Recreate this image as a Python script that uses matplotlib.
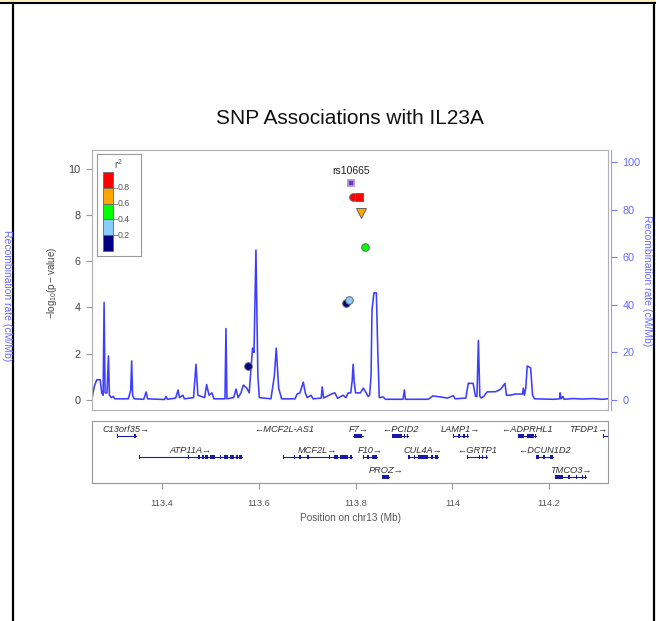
import matplotlib
matplotlib.use("Agg")
import matplotlib.pyplot as plt
from matplotlib.patches import Rectangle
from matplotlib.lines import Line2D

plt.rcParams["font.family"] = ["Liberation Sans", "DejaVu Sans"]
plt.rcParams["mathtext.fontset"] = "custom"
plt.rcParams["mathtext.rm"] = "Liberation Sans"
plt.rcParams["mathtext.it"] = "Liberation Sans:italic"

# -----------------------------
# SNPs (position Mb, -log10 p, r2, shape)
# -----------------------------
snp_pos = [113.790, 113.795, 113.807, 113.812, 113.820, 113.787, 113.781, 113.578]
snp_logp = [9.39, 8.79, 8.79, 8.10, 6.62, 4.33, 4.20, 1.47]
snp_r2 = [1.0, 0.9, 0.9, 0.7, 0.5, 0.3, 0.1, 0.1]
snp_shape = ["s", "o", "s", "v", "o", "o", "o", "o"]
index_snp = "rs10665"

# -----------------------------
# Recombination rate (cM/Mb)
# -----------------------------
recomb_pos = [113.255, 113.258, 113.261, 113.265, 113.272, 113.275, 113.278, 113.280, 113.282,
              113.286, 113.289, 113.291, 113.295, 113.299, 113.302, 113.330, 113.335, 113.337,
              113.339, 113.342, 113.362, 113.367, 113.370, 113.405, 113.408, 113.411, 113.428,
              113.433, 113.436, 113.443, 113.446, 113.465, 113.470, 113.474, 113.488, 113.492,
              113.497, 113.503, 113.507, 113.530, 113.532, 113.534, 113.548, 113.553, 113.557,
              113.563, 113.568, 113.575, 113.580, 113.587, 113.590, 113.594, 113.598, 113.601,
              113.625, 113.632, 113.636, 113.641, 113.647, 113.675, 113.679, 113.685, 113.692,
              113.696, 113.700, 113.708, 113.712, 113.729, 113.731, 113.734, 113.750, 113.757,
              113.763, 113.774, 113.780, 113.785, 113.790, 113.793, 113.795, 113.797, 113.800,
              113.810, 113.816, 113.822, 113.826, 113.829, 113.832, 113.834, 113.838, 113.843,
              113.846, 113.849, 113.857, 113.862, 113.898, 113.901, 113.903, 113.950, 113.960,
              113.975, 113.990, 114.002, 114.006, 114.028, 114.033, 114.043, 114.048, 114.051,
              114.054, 114.057, 114.060, 114.065, 114.072, 114.090, 114.100, 114.109, 114.112,
              114.120, 114.130, 114.145, 114.147, 114.149, 114.152, 114.155, 114.162, 114.166,
              114.170, 114.210, 114.222, 114.223, 114.225, 114.229, 114.231, 114.250, 114.270,
              114.290, 114.310, 114.322]
recomb_rate = [0.3, 4, 6.5, 8.5, 8.5, 3, 2, 41, 3,
               3, 18.5, 2, 1.0, 1.5, 0.5, 0.5, 4, 16.4,
               2, 0.5, 0.3, 3.4, 0.5, 0.2, 1.5, 0.3, 0.8,
               4.2, 1, 2, 0.5, 1, 15, 2, 1, 6.5,
               2, 3, 0.5, 0.5, 30, 0.5, 1, 4.6, 1,
               3, 6.3, 5, 3, 21.8, 20, 63, 10, 1,
               0.5, 10, 21.8, 5, 0.5, 0.5, 2.5, 3, 7.5,
               3, 1, 2, 0.5, 0.8, 5.5, 0.8, 2.5, 3,
               0.7, 2, 1, 3, 3, 8, 15, 8, 3,
               3, 5, 3, 1.5, 2, 10, 38, 45, 45,
               20, 1, 1.3, 0.3, 0.3, 4.2, 0.3, 0.3, 1.7,
               1.3, 0.8, 1.8, 0.5, 0.8, 7, 7, 1.5, 1.5,
               25, 1.5, 0.8, 1.5, 3.4, 3.5, 4.5, 7, 2,
               2, 2.5, 2.5, 5, 2, 5, 14.3, 13.5, 2,
               0.5, 0.3, 0.5, 3, 0.5, 1.5, 0.3, 0.6, 0.4,
               0.6, 0.3, 0.5]

# -----------------------------
# Genes
# -----------------------------
gene_name = ["C13orf35", "MCF2L-AS1", "F7", "PCID2", "LAMP1", "ADPRHL1", "TFDP1",
             "ATP11A", "MCF2L", "F10", "CUL4A", "GRTP1", "DCUN1D2",
             "PROZ", "TMCO3"]
gene_start = [113.307, 113.651, 113.795, 113.876, 114.002, 114.136, 114.312,
              113.352, 113.650, 113.816, 113.909, 114.031, 114.174,
              113.855, 114.213]
gene_end = [113.346, 113.653, 113.816, 113.909, 114.033, 114.174, 114.380,
            113.565, 113.793, 113.845, 113.971, 114.072, 114.209,
            113.870, 114.277]
gene_strand = ["+", "-", "+", "-", "+", "-", "+",
               "+", "+", "+", "+", "-", "-",
               "+", "+"]
gene_row = [0, 0, 0, 0, 0, 0, 0, 1, 1, 1, 1, 1, 1, 2, 2]
gene_exons = [
    [(113.307, 113.309), (113.342, 113.346)],
    [(113.651, 113.653)],
    [(113.797, 113.814)],
    [(113.876, 113.896), (113.900, 113.903), (113.906, 113.909)],
    [(114.002, 114.004), (114.012, 114.016), (114.022, 114.026), (114.031, 114.033)],
    [(114.136, 114.148), (114.155, 114.168), (114.171, 114.174)],
    [(114.312, 114.314)],
    [(113.352, 113.354), (113.453, 113.455), (113.474, 113.478), (113.482, 113.486),
     (113.489, 113.495), (113.498, 113.510), (113.519, 113.521), (113.528, 113.536),
     (113.540, 113.548), (113.552, 113.556), (113.559, 113.565)],
    [(113.650, 113.652), (113.672, 113.675), (113.684, 113.687), (113.700, 113.703),
     (113.745, 113.748), (113.756, 113.764), (113.768, 113.785), (113.789, 113.793)],
    [(113.816, 113.818), (113.824, 113.828), (113.835, 113.845)],
    [(113.909, 113.912), (113.920, 113.923), (113.930, 113.950), (113.955, 113.960),
     (113.965, 113.971)],
    [(114.031, 114.033), (114.055, 114.057), (114.062, 114.064), (114.070, 114.072)],
    [(114.174, 114.180), (114.188, 114.192), (114.203, 114.209)],
    [(113.855, 113.870)],
    [(114.213, 114.228), (114.240, 114.243), (114.255, 114.258), (114.268, 114.271),
     (114.274, 114.277)],
]

x_ticks = [113.4, 113.6, 113.8, 114.0, 114.2]
x_tick_labels = ["113.4", "113.6", "113.8", "114", "114.2"]

ld_colors = ["#000080", "#87CEFA", "#00FF00", "#FFA500", "#FF0000"]
ld_breaks = ["0.2", "0.4", "0.6", "0.8"]

xmin, xmax = 113.255, 114.322
W, H = 656, 621

fig = plt.figure(figsize=(W / 100, H / 100), dpi=100)


def px_axes(x0, y0, x1, y1):
    return fig.add_axes([x0 / W, 1 - y1 / H, (x1 - x0) / W, (y1 - y0) / H])


def ld_color(r2):
    if r2 >= 0.8:
        return ld_colors[4]
    if r2 >= 0.6:
        return ld_colors[3]
    if r2 >= 0.4:
        return ld_colors[2]
    if r2 >= 0.2:
        return ld_colors[1]
    return ld_colors[0]


# ===========================================================
# Association panel
# ===========================================================
ax = px_axes(92, 150, 608, 410)
ax2 = ax.twinx()
ax.set_zorder(ax2.get_zorder() + 1)
ax.patch.set_visible(False)

ax2.plot(recomb_pos, recomb_rate, color="#3d3dff", lw=1.15)
ax2.set_ylim(-4.2, 105)
ax2.set_yticks([0, 20, 40, 60, 80, 100])
ax2.tick_params(axis="y", colors="#7777ff", labelcolor="#6b6bff", labelsize=7.8,
                length=4.3, pad=4)
ax2.spines["right"].set_color("#9a9aff")
ax2.spines["right"].set_position(("outward", 2))
for s in ["top", "left", "bottom"]:
    ax2.spines[s].set_visible(False)

order = sorted(range(len(snp_pos)), key=lambda i: snp_r2[i])
for i in order:
    if snp_r2[i] >= 1.0:
        ax.plot(snp_pos[i], snp_logp[i], marker="s", ms=5, mfc="#7b2fbe",
                mec="#a89ad8", mew=1.3, zorder=5)
        ax.text(snp_pos[i], snp_logp[i] + 0.28, index_snp, ha="center", va="bottom",
                fontsize=7.5, color="#222222")
    else:
        ms = 6.5 if snp_shape[i] == "v" else 5.5
        ax.plot(snp_pos[i], snp_logp[i], marker=snp_shape[i], ms=ms,
                mfc=ld_color(snp_r2[i]), mec="#666666", mew=0.7, zorder=4)

ax.set_xlim(xmin, xmax)
ax.set_ylim(-0.43, 10.8)
ax.set_xticks([])
ax.set_yticks([0, 2, 4, 6, 8, 10])
ax.tick_params(axis="y", colors="#999999", labelcolor="#444444", labelsize=7.8,
               length=4.3, pad=4)
for s in ax.spines.values():
    s.set_color("#b0b0b0")
ax.spines["right"].set_visible(False)
ax.plot([1, 1], [0, 1], transform=ax.transAxes, color="#b0b0b0", lw=0.8, clip_on=False)

fig.text(52 / W, 1 - 283 / H, r"$\mathrm{-log_{10}(p-value)}$", rotation=90,
         ha="center", va="center", fontsize=7, color="#444444")
fig.text(647 / W, 1 - 281 / H, "Recombination rate (cM/Mb)", rotation=270,
         ha="center", va="center", fontsize=7.5, color="#6b6bff")

# -----------------------------
# r2 legend
# -----------------------------
leg = px_axes(97, 154, 141, 256)
leg.set_xlim(0, 44)
leg.set_ylim(102, 0)
leg.set_xticks([])
leg.set_yticks([])
for s in leg.spines.values():
    s.set_color("#999999")
seg = 79 / len(ld_colors)
for k, c in enumerate(reversed(ld_colors)):
    leg.add_patch(Rectangle((6, 18 + seg * k), 10, seg, facecolor=c,
                            edgecolor="#666666", lw=0.6))
for k, lab in enumerate(reversed(ld_breaks)):
    yb = 18 + seg * (k + 1)
    leg.plot([16, 20], [yb, yb], color="#777777", lw=0.6)
    leg.text(21, yb, lab, va="center", ha="left", fontsize=6.3, color="#555555")
leg.text(21, 10, r"r$^2$", ha="center", va="center", fontsize=7, color="#555555")

# ===========================================================
# Gene panel
# ===========================================================
gax = px_axes(92, 421, 608, 483)
gax.set_xlim(xmin, xmax)
gax.set_ylim(62, 0)
gax.set_yticks([])
row_body = [15, 36, 56]
for i, name in enumerate(gene_name):
    yb = row_body[gene_row[i]]
    gax.plot([gene_start[i], gene_end[i]], [yb, yb], color="#1a1aa8", lw=0.8)
    for e0, e1 in gene_exons[i]:
        gax.add_patch(Rectangle((e0, yb - 2.2), e1 - e0, 4.4, facecolor="#1a1aa8",
                                edgecolor="none"))
    label = name + "\u2192" if gene_strand[i] == "+" else "\u2190" + name
    mid = (gene_start[i] + gene_end[i]) / 2
    if gene_end[i] > xmax:
        gax.text(xmax - 0.001, yb - 6.5, label, ha="right", va="center",
                 fontsize=6.7, style="italic", color="#333333")
    else:
        gax.text(mid, yb - 6.5, label, ha="center", va="center",
                 fontsize=6.7, style="italic", color="#333333")

gax.set_xticks(x_ticks)
gax.set_xticklabels(x_tick_labels)
gax.tick_params(axis="x", direction="out", length=4.3, color="#999999",
                labelcolor="#555555", labelsize=6.7, pad=7)
for s in gax.spines.values():
    s.set_color("#999999")
gax.set_xlabel("Position on chr13 (Mb)", fontsize=7.2, color="#555555", labelpad=4)

# -----------------------------
# Title
# -----------------------------
fig.text(350 / W, 1 - 118 / H, "SNP Associations with IL23A", ha="center", va="center",
         fontsize=15, color="#111111")

# -----------------------------
# Screenshot frame and clipped neighbour
# -----------------------------
fig.text(7 / W, 1 - 296 / H, "Recombination rate (cM/Mb)", rotation=270,
         ha="center", va="center", fontsize=7.5, color="#6b6bff")
fig.add_artist(Rectangle((0, 1 - 2 / H), 1, 2 / H, transform=fig.transFigure,
                         facecolor="#fff1c4", edgecolor="none"))
fig.add_artist(Line2D([0, 1], [1 - 3 / H, 1 - 3 / H], transform=fig.transFigure,
                      color="black", lw=1.5))
fig.add_artist(Line2D([12.5 / W, 12.5 / W], [0, 1 - 3 / H], transform=fig.transFigure,
                      color="black", lw=1.6))
fig.add_artist(Line2D([653.5 / W, 653.5 / W], [0, 1 - 3 / H], transform=fig.transFigure,
                      color="black", lw=1.6))

fig.savefig("out.png", dpi=100)
